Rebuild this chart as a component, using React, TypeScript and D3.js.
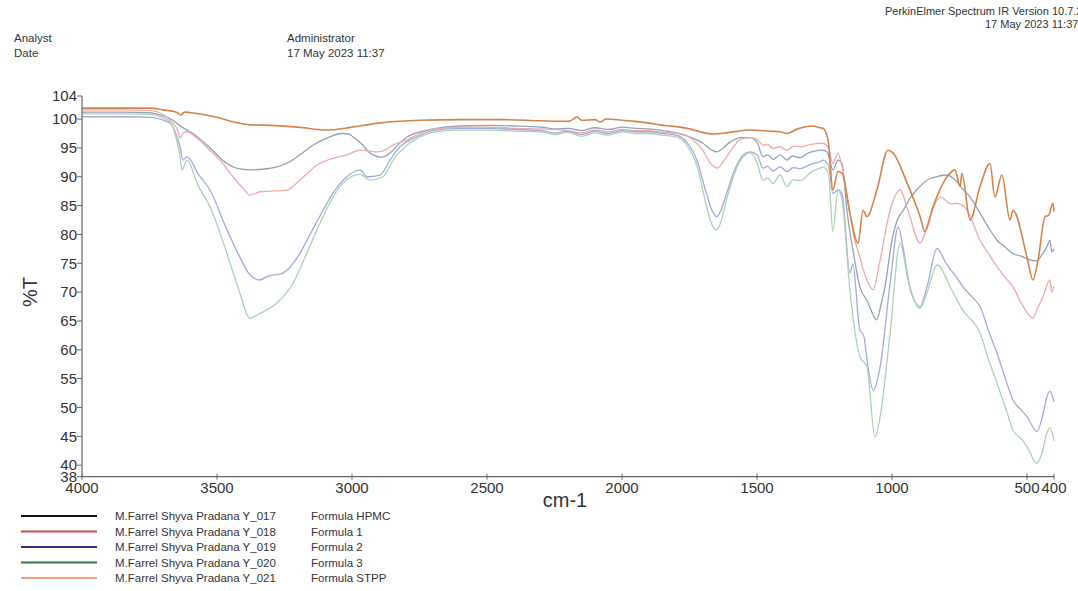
import React from "react";
import * as d3 from "d3";

type Pt = [number, number];

// wavenumber (cm-1), %T
const hpmc: Pt[] = [
  [4000, 101.2], [3850, 101.2], [3750, 101.1], [3720, 100.8], [3674, 100.1], [3630, 98.6], [3589, 97.5],
  [3530, 95.2], [3463, 92.3], [3420, 91.4], [3378, 91.2], [3330, 91.3], [3278, 91.7], [3230, 92.6],
  [3193, 93.8], [3140, 95.6], [3093, 96.7], [3037, 97.5], [3010, 97.4], [2996, 96.9], [2960, 95.5],
  [2933, 94.1], [2889, 93.4], [2870, 93.7], [2848, 94.6], [2820, 96.0], [2796, 96.9], [2748, 97.8],
  [2700, 98.3], [2600, 98.8], [2500, 98.9], [2400, 98.8], [2300, 98.6], [2250, 98.3], [2200, 98.4],
  [2150, 98.0], [2100, 98.5], [2050, 98.2], [2000, 98.6], [1950, 98.4], [1900, 98.3], [1850, 98.0],
  [1800, 97.6], [1750, 96.9], [1700, 95.8], [1670, 94.7], [1650, 94.3], [1630, 94.8], [1600, 96.0],
  [1560, 96.8], [1526, 96.8], [1500, 96.0], [1478, 93.5], [1460, 93.8], [1440, 93.0], [1415, 93.8],
  [1389, 92.9], [1370, 93.6], [1340, 93.3], [1315, 94.0], [1290, 94.4], [1256, 94.6], [1240, 94.3],
  [1219, 91.2], [1200, 92.9], [1185, 92.3], [1167, 84.2], [1140, 76.0], [1119, 70.9], [1093, 68.6],
  [1056, 65.2], [1040, 68.0], [1026, 70.9], [1000, 79.0], [980, 82.5], [958, 84.2], [930, 86.5],
  [909, 87.7], [859, 89.7], [835, 90.0], [796, 90.3], [759, 89.1], [740, 88.0], [711, 86.5],
  [674, 83.7], [640, 81.0], [611, 79.0], [580, 77.8], [552, 76.7], [520, 76.2], [489, 75.6],
  [463, 75.4], [445, 76.5], [426, 77.9], [415, 79.0], [408, 77.0], [400, 77.5],
];

const formula1: Pt[] = [
  [4000, 101.6], [3850, 101.6], [3750, 101.5], [3700, 100.8], [3663, 99.3], [3645, 98.0], [3637, 96.7],
  [3625, 97.6], [3611, 97.8], [3570, 96.5], [3526, 94.6], [3480, 92.4], [3441, 90.0], [3400, 87.8],
  [3378, 86.8], [3341, 87.4], [3300, 87.5], [3241, 87.7], [3193, 89.4], [3130, 92.0], [3070, 93.2],
  [3019, 93.8], [2970, 94.6], [2940, 94.5], [2907, 94.3], [2870, 94.8], [2848, 95.5], [2796, 96.4],
  [2748, 97.5], [2700, 98.2], [2600, 98.6], [2500, 98.6], [2400, 98.4], [2300, 98.3], [2200, 98.0],
  [2150, 97.6], [2100, 98.1], [2050, 97.8], [2000, 98.2], [1950, 98.0], [1900, 98.0], [1850, 97.7],
  [1785, 97.5], [1740, 96.5], [1700, 94.5], [1670, 92.2], [1648, 91.5], [1625, 92.6], [1590, 95.0],
  [1560, 96.5], [1526, 96.8], [1500, 96.5], [1478, 95.5], [1460, 95.6], [1441, 94.9], [1415, 95.2],
  [1389, 94.6], [1365, 95.3], [1340, 95.2], [1300, 95.6], [1267, 95.8], [1256, 95.8], [1235, 95.0],
  [1219, 92.3], [1200, 94.1], [1185, 91.7], [1160, 85.0], [1141, 79.6], [1125, 77.0], [1093, 72.1],
  [1070, 70.4], [1044, 75.6], [1007, 84.2], [970, 87.7], [940, 84.0], [896, 78.5], [860, 83.0],
  [822, 86.5], [780, 85.3], [759, 85.4], [722, 84.2], [674, 79.0], [640, 76.5], [611, 74.4],
  [580, 72.5], [552, 70.9], [520, 68.0], [478, 65.5], [463, 67.0], [441, 69.2], [415, 72.1],
  [408, 70.0], [400, 71.0],
];

const formula2: Pt[] = [
  [4000, 100.4], [3850, 100.4], [3740, 100.3], [3700, 99.8], [3674, 99.3], [3650, 97.2], [3637, 95.2],
  [3626, 92.9], [3611, 93.5], [3570, 90.5], [3526, 87.7], [3463, 80.8], [3420, 76.5], [3378, 73.0],
  [3341, 72.1], [3315, 72.7], [3256, 73.3], [3193, 76.7], [3150, 80.5], [3107, 84.2], [3070, 87.2],
  [3033, 89.4], [2970, 91.2], [2944, 90.0], [2896, 90.3], [2859, 92.9], [2822, 95.2], [2780, 96.5],
  [2748, 97.2], [2700, 98.0], [2600, 98.4], [2500, 98.4], [2400, 98.2], [2300, 98.0], [2250, 97.6],
  [2200, 97.9], [2150, 97.3], [2100, 97.9], [2050, 97.5], [2000, 98.0], [1950, 97.8], [1900, 97.8],
  [1850, 97.5], [1800, 97.2], [1760, 96.0], [1720, 92.5], [1690, 87.5], [1665, 84.0], [1650, 83.1],
  [1635, 84.0], [1610, 87.5], [1580, 91.5], [1550, 93.8], [1526, 94.3], [1500, 93.8], [1478, 91.5],
  [1460, 91.8], [1441, 91.0], [1415, 91.7], [1389, 90.9], [1365, 91.6], [1340, 91.4], [1300, 92.2],
  [1267, 92.6], [1256, 92.9], [1235, 92.0], [1219, 87.1], [1200, 87.7], [1185, 87.0], [1156, 73.3],
  [1145, 74.9], [1119, 63.4], [1105, 62.5], [1089, 57.1], [1070, 53.0], [1044, 57.1], [1007, 71.5],
  [977, 81.3], [960, 78.0], [930, 70.0], [896, 67.5], [870, 71.0], [833, 77.6], [800, 75.0],
  [760, 72.5], [737, 70.9], [700, 69.0], [674, 67.5], [640, 63.0], [611, 59.4], [580, 55.0],
  [552, 51.3], [520, 49.5], [500, 48.4], [463, 45.8], [440, 49.0], [426, 51.9], [415, 52.8], [400, 51.0],
];

const formula3: Pt[] = [
  [4000, 100.9], [3850, 100.9], [3740, 100.8], [3700, 100.2], [3674, 99.5], [3650, 96.5], [3637, 93.5],
  [3630, 91.2], [3611, 92.9], [3570, 88.5], [3526, 84.8], [3463, 76.7], [3420, 70.5], [3378, 65.5],
  [3341, 66.3], [3278, 68.1], [3219, 71.5], [3170, 76.5], [3119, 81.9], [3070, 86.5], [3033, 88.9],
  [2970, 90.4], [2933, 89.4], [2885, 90.0], [2848, 92.9], [2796, 95.5], [2748, 96.9], [2700, 97.7],
  [2600, 98.1], [2500, 98.1], [2400, 97.9], [2300, 97.8], [2250, 97.3], [2200, 97.7], [2150, 97.0],
  [2100, 97.6], [2050, 97.2], [2000, 97.8], [1950, 97.5], [1900, 97.5], [1850, 97.2], [1800, 96.9],
  [1760, 95.5], [1720, 91.5], [1690, 85.5], [1665, 81.5], [1650, 80.8], [1635, 82.0], [1610, 86.5],
  [1580, 91.0], [1550, 93.5], [1526, 94.2], [1500, 92.5], [1478, 89.4], [1460, 89.8], [1441, 88.8],
  [1415, 90.3], [1389, 88.3], [1365, 89.5], [1340, 89.3], [1300, 90.8], [1267, 91.5], [1256, 91.7],
  [1235, 90.5], [1219, 80.5], [1200, 87.7], [1185, 86.0], [1156, 70.4], [1140, 64.0], [1119, 58.8],
  [1093, 57.1], [1063, 44.9], [1044, 48.4], [1007, 62.9], [970, 78.5], [940, 72.0], [896, 67.2],
  [870, 70.0], [833, 74.7], [780, 70.5], [740, 67.0], [674, 62.9], [640, 58.0], [611, 54.2],
  [580, 50.0], [552, 46.1], [520, 44.5], [500, 43.2], [463, 40.3], [445, 42.0], [426, 45.6],
  [415, 46.5], [400, 44.2],
];

const stpp: Pt[] = [
  [4000, 101.9], [3850, 101.9], [3748, 101.9], [3700, 101.6], [3650, 101.2], [3635, 100.7], [3630, 100.8],
  [3620, 101.2], [3580, 101.0], [3500, 100.3], [3430, 99.4], [3378, 99.0], [3300, 98.9], [3200, 98.6],
  [3093, 98.1], [3000, 98.6], [2900, 99.3], [2748, 99.8], [2600, 99.9], [2450, 99.9], [2300, 99.7],
  [2200, 99.6], [2180, 100.0], [2167, 100.4], [2150, 99.8], [2100, 99.9], [2081, 99.5], [2060, 100.0],
  [2000, 99.8], [1950, 99.6], [1900, 99.3], [1859, 99.0], [1800, 98.7], [1750, 98.3], [1711, 97.8],
  [1663, 97.4], [1600, 97.7], [1526, 98.1], [1450, 97.9], [1415, 97.8], [1389, 97.5], [1350, 98.3],
  [1315, 98.7], [1293, 98.8], [1267, 98.5], [1256, 98.4], [1237, 96.4], [1219, 87.7], [1200, 90.9],
  [1185, 90.6], [1156, 83.7], [1126, 78.5], [1107, 84.2], [1093, 83.1], [1056, 87.7], [1015, 94.6],
  [996, 94.1], [944, 88.9], [896, 83.1], [878, 80.5], [848, 84.8], [796, 90.0], [767, 91.2],
  [748, 88.3], [741, 90.6], [711, 82.5], [674, 88.3], [637, 92.3], [619, 86.5], [593, 90.3],
  [563, 82.5], [552, 84.2], [500, 76.1], [478, 72.1], [459, 75.6], [433, 83.1], [420, 83.3],
  [404, 85.4], [400, 84.0],
];

const sampleNames = [
  "M.Farrel Shyva Pradana Y_017",
  "M.Farrel Shyva Pradana Y_018",
  "M.Farrel Shyva Pradana Y_019",
  "M.Farrel Shyva Pradana Y_020",
  "M.Farrel Shyva Pradana Y_021",
];
const formulaNames = ["Formula HPMC", "Formula 1", "Formula 2", "Formula 3", "Formula STPP"];
const seriesData = [hpmc, formula1, formula2, formula3, stpp];
const plotColors = ["#93a2b8", "#eeaaa8", "#a5a8dc", "#a9d4b3", "#d4844a"];
const legendColors = ["#111111", "#cc4a4a", "#2f3188", "#2d7a3a", "#f0a478"];

const yTicks = [104, 100, 95, 90, 85, 80, 75, 70, 65, 60, 55, 50, 45, 40, 38];
const xTicks = [4000, 3500, 3000, 2500, 2000, 1500, 1000, 500, 400];

const FONT = "'Liberation Sans', Arial, sans-serif";

export default function App() {
  const x = d3.scaleLinear().domain([4000, 400]).range([82, 1054]);
  const y = d3.scaleLinear().domain([38, 104]).range([476.7, 96]);
  const line = d3
    .line<Pt>()
    .x((d) => x(d[0]))
    .y((d) => y(d[1]))
    .curve(d3.curveMonotoneX);

  const axisColor = "#666";
  const textColor = "#333";

  return (
    <svg
      width={1078}
      height={591}
      style={{ position: "absolute", left: 0, top: 0, background: "#fff", overflow: "hidden" }}
      fontFamily={FONT}
    >
      <rect x={0} y={0} width={1078} height={591} fill="#fff" />
      {/* header */}
      <text x={14} y={42} fontSize={11.5} fill={textColor}>Analyst</text>
      <text x={14} y={57} fontSize={11.5} fill={textColor}>Date</text>
      <text x={287} y={42} fontSize={11.5} fill={textColor}>Administrator</text>
      <text x={287} y={57} fontSize={11.5} fill={textColor}>17 May 2023 11:37</text>
      <text x={885} y={15} fontSize={11} fill={textColor}>PerkinElmer Spectrum IR Version 10.7.2</text>
      <text x={985} y={28} fontSize={11} fill={textColor}>17 May 2023 11:37</text>

      {/* curves */}
      {seriesData.map((s, i) => (
        <path
          key={i}
          d={line(s) || ""}
          fill="none"
          stroke={plotColors[i]}
          strokeWidth={i === 4 ? 1.6 : 1.3}
          strokeLinejoin="round"
        />
      ))}

      {/* axes */}
      <line x1={x(4000)} x2={x(4000)} y1={y(104)} y2={y(38)} stroke={axisColor} strokeWidth={1.2} />
      <line x1={x(4000)} x2={x(400)} y1={y(38)} y2={y(38)} stroke={axisColor} strokeWidth={1.2} />
      {yTicks.map((t) => (
        <g key={t}>
          <line x1={x(4000) - 5} x2={x(4000)} y1={y(t)} y2={y(t)} stroke={axisColor} />
          <text
            x={x(4000) - 5}
            y={y(t)}
            dy="0.35em"
            textAnchor="end"
            fontSize={15}
            fill={textColor}
          >
            {t}
          </text>
        </g>
      ))}
      {xTicks.map((t) => (
        <g key={t}>
          <line x1={x(t)} x2={x(t)} y1={y(38) - 3} y2={y(38) + 3} stroke={axisColor} />
          <text x={x(t)} y={493} textAnchor="middle" fontSize={15} fill={textColor}>
            {t}
          </text>
        </g>
      ))}
      <text
        transform="translate(37,292) rotate(-90)"
        textAnchor="middle"
        fontSize={20}
        fill={textColor}
      >
        %T
      </text>
      <text x={565} y={507} textAnchor="middle" fontSize={20} fill={textColor}>
        cm-1
      </text>

      {/* legend */}
      {sampleNames.map((n, i) => {
        const ly = 516 + i * 15.5;
        return (
          <g key={n}>
            <line x1={21} x2={97} y1={ly} y2={ly} stroke={legendColors[i]} strokeWidth={2} />
            <text x={115} y={ly} dy="0.35em" fontSize={11.5} fill={textColor}>{n}</text>
            <text x={311} y={ly} dy="0.35em" fontSize={11.5} fill={textColor}>{formulaNames[i]}</text>
          </g>
        );
      })}
    </svg>
  );
}
